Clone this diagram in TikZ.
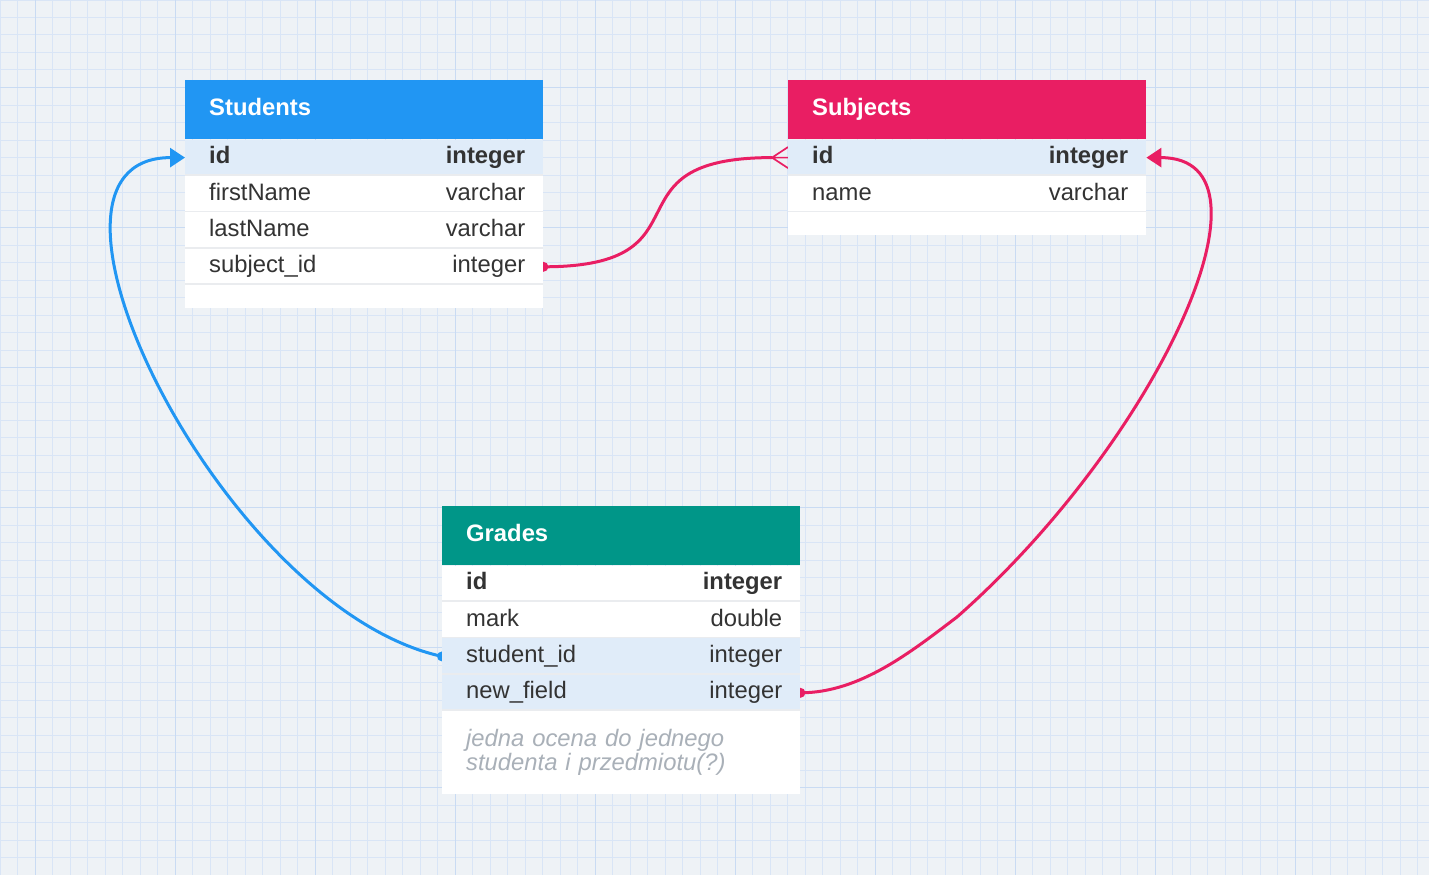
\documentclass[tikz,border=0pt]{standalone}
\usepackage{fontspec}
\setmainfont{Liberation Sans}
\usetikzlibrary{positioning,arrows.meta,backgrounds}

\definecolor{paper}{HTML}{EEF2F6}
\definecolor{gridminor}{HTML}{D9E5F6}
\definecolor{gridmajor}{HTML}{C9DBF3}
\definecolor{studentsblue}{HTML}{2196F3}
\definecolor{subjectspink}{HTML}{E91E63}
\definecolor{gradesteal}{HTML}{009688}
\definecolor{rowhl}{HTML}{E0ECF9}
\definecolor{rowsep}{HTML}{EAECEF}
\definecolor{ink}{HTML}{333333}
\definecolor{notegray}{HTML}{A9B0B8}

\begin{document}
\begin{tikzpicture}[
    x=1pt, y=-1pt,
    head/.style={rectangle, fill=#1, anchor=north west, minimum width=358pt, minimum height=59pt,
        text width=310pt, inner xsep=24pt, inner ysep=0pt, align=left, text=white,
        text height=17pt, text depth=5pt, font=\fontsize{23.8}{28}\selectfont\bfseries},
    row/.style={rectangle, fill=white, minimum width=358pt, minimum height=36pt,
        text width=310pt, inner xsep=24pt, inner ysep=0pt, align=left, text=ink,
        font=\fontsize{23.8}{28}\selectfont, text height=17pt, text depth=5pt,
        path picture={\draw[rowsep, line width=3pt] (path picture bounding box.south west) -- (path picture bounding box.south east);}},
    hl/.style={fill=rowhl},
    coltype/.style={label={[anchor=east, xshift=-18pt, inner sep=0pt, text=ink, text height=17pt, text depth=5pt,
        font=\fontsize{23.8}{28}\selectfont]east:#1}},
    keytype/.style={label={[anchor=east, xshift=-18pt, inner sep=0pt, text=ink, text height=17pt, text depth=5pt,
        font=\fontsize{23.8}{28}\selectfont\bfseries]east:#1}},
    tail/.style={rectangle, fill=white, minimum width=358pt, minimum height=#1, inner sep=0pt},
    note/.style={rectangle, fill=white, minimum width=358pt, minimum height=83pt,
        text width=310pt, inner xsep=24pt, inner ysep=0pt, align=left, text=notegray,
        font=\fontsize{23.8}{24}\selectfont\itshape},
    blueline/.style={draw=studentsblue, line width=3pt},
    pinkline/.style={draw=subjectspink, line width=3pt},
    crow/.style={draw=subjectspink, line width=1.7pt},
    tip/.style={-{Triangle[length=15pt, width=19pt]}}
]
    \useasboundingbox (0,0) rectangle (1429,875);

    % Students
    \node[head=studentsblue] (st) at (185,80) {Students};
    \node[row, hl, keytype=integer, below=0pt of st] (st-id) {\bfseries id};
    \node[row, coltype=varchar, below=0pt of st-id] (st-first) {firstName};
    \node[row, coltype=varchar, below=0pt of st-first] (st-last) {lastName};
    \node[row, coltype=integer, below=0pt of st-last] (st-subject) {subject\_id};
    \node[tail=23pt, below=0pt of st-subject] (st-end) {};

    % Subjects
    \node[head=subjectspink] (sb) at (788,80) {Subjects};
    \node[row, hl, keytype=integer, below=0pt of sb] (sb-id) {\bfseries id};
    \node[row, coltype=varchar, below=0pt of sb-id] (sb-name) {name};
    \node[tail=23pt, below=0pt of sb-name] (sb-end) {};

    % Grades
    \node[head=gradesteal] (gr) at (442,506) {Grades};
    \node[row, keytype=integer, below=0pt of gr] (gr-id) {\bfseries id};
    \node[row, coltype=double, below=0pt of gr-id] (gr-mark) {mark};
    \node[row, hl, coltype=integer, below=0pt of gr-mark] (gr-student) {student\_id};
    \node[row, hl, coltype=integer, below=0pt of gr-student] (gr-newfield) {new\_field};
    \node[note, below=0pt of gr-newfield] (gr-note) {jedna ocena do jednego\\studenta i przedmiotu(?)};

    \coordinate (sb-crow) at ([xshift=-16pt]sb-id.west);
    \coordinate (gr-bend) at (957,617);

    \begin{scope}[on background layer]
        \fill[paper] (0,0) rectangle (1429,875);
        \draw[gridminor, line width=1pt, step=17.5pt] (0,875) grid (1429,0);
        \draw[gridmajor, line width=1.5pt, step=140pt, xshift=35.7pt, yshift=-87.7pt] (-35.7,787.3) grid (1393.3,-87.7);

        % relations
        \draw[blueline, tip] (gr-student.west) .. controls +(-220,-48) and +(-185,0) .. (st-id.west);
        \fill[studentsblue] (gr-student.west) circle (5pt);

        \draw[pinkline] (st-subject.east) .. controls +(173,0) and +(-173,0) .. (sb-crow);
        \draw[crow] ([yshift=10.5pt]sb-id.west) -- (sb-crow) -- ([yshift=-10.5pt]sb-id.west)
            (sb-crow) -- (sb-id.west);
        \fill[subjectspink] (st-subject.east) circle (5pt);

        \draw[pinkline, tip] (gr-newfield.east) .. controls +(60,0) and +(-45,34) .. (gr-bend)
            .. controls +(200,-176) and +(142,0) .. (sb-id.east);
        \fill[subjectspink] (gr-newfield.east) circle (5pt);
    \end{scope}
\end{tikzpicture}
\end{document}
